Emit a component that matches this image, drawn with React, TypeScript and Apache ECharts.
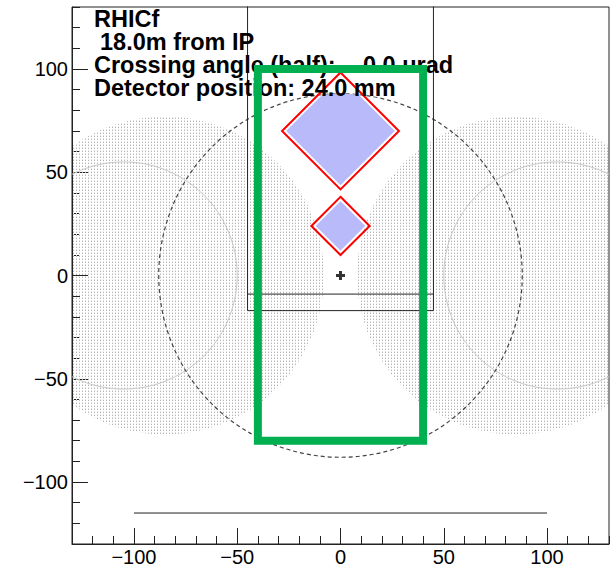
import React, { useEffect, useRef } from 'react';
import * as echarts from 'echarts';

// Axis ranges and ticks (mm)
const X_MIN = -130;
const X_MAX = 130;
const Y_MIN = -130;
const Y_MAX = 130;
const MINOR_STEP = 10;
const xMajorTicks = [-100, -50, 0, 50, 100];
const yMajorTicks = [-100, -50, 0, 50, 100];

// Geometry (mm): [cx, cy, radius]
const shadowDisks = [[-85, 0, 77], [85, 0, 77]];
const magnetCircles = [[-105, 0, 55], [105, 0, 55]];
const apertureCircle = [[0, 0, 88]];
// Towers: [cx, cy, half diagonal]
const towerOutlines = [[0, 24, 14.1], [0, 70, 28.3]];
const towerActive = [[0, 24, 12], [0, 70, 26.3]];
const detectorFrame = [[-45, 140], [-45, -17], [45, -17], [45, 140]];
const detectorInnerLine = [[-45, -9], [45, -9]];
const acceptanceBox = [[-40, -80, 40, 100]];
const baseLine = [[-100, -115], [100, -115]];
const beamCenter = [[0, 0]];

const infoLines = ['RHICf', '18.0m from IP', 'Crossing angle (half):', 'Detector position: 24.0 mm'];
const crossingValue = '0.0 urad';

const FONT = '"Liberation Sans", Arial, Helvetica, sans-serif';
const minus = (v: number) => String(v).replace('-', '\u2212');

export default function App() {
  const ref = useRef<HTMLDivElement>(null);
  useEffect(() => {
    if (!ref.current) return;
    const chart = echarts.init(ref.current, undefined, { renderer: 'svg' });

    const tile = document.createElement('canvas');
    tile.width = 3;
    tile.height = 3;
    const ctx = tile.getContext('2d');
    if (ctx) {
      ctx.fillStyle = '#b4b4b4';
      ctx.fillRect(1, 1, 1, 1);
      ctx.fillStyle = '#e2e2e2';
      ctx.fillRect(1, 0, 1, 1);
    }
    const dotFill: any = { image: tile, repeat: 'repeat', imageWidth: 3, imageHeight: 3 };

    const circleSeries = (data: number[][], style: any, z = 2) => ({
      type: 'custom',
      clip: true,
      z,
      silent: true,
      data,
      renderItem: (_p: any, api: any) => {
        const c = api.coord([api.value(0), api.value(1)]);
        const r = api.size([api.value(2), 0])[0];
        return { type: 'circle', shape: { cx: c[0], cy: c[1], r }, style };
      },
    });

    const axisColor = '#222';
    const baseXAxis = { type: 'value', min: X_MIN, max: X_MAX, position: 'bottom', splitLine: { show: false } };
    const baseYAxis = { type: 'value', min: Y_MIN, max: Y_MAX, position: 'left', splitLine: { show: false } };

    const [ax, ay, R] = apertureCircle[0];

    chart.setOption({
      animation: false,
      grid: { left: 72, top: 7, right: 2, bottom: 24, show: true, borderColor: axisColor, borderWidth: 1, backgroundColor: 'transparent' },
      xAxis: [
        {
          ...baseXAxis,
          interval: MINOR_STEP,
          axisLine: { show: true, onZero: false, lineStyle: { color: axisColor, width: 1 } },
          axisTick: { show: true, inside: true, length: 8, lineStyle: { color: axisColor } },
          axisLabel: { show: false },
        },
        {
          ...baseXAxis,
          axisLine: { show: false, onZero: false },
          axisTick: { show: true, inside: true, length: 16, customValues: xMajorTicks, lineStyle: { color: axisColor } },
          axisLabel: { show: true, customValues: xMajorTicks, formatter: minus, fontSize: 20, fontFamily: FONT, color: '#000', margin: 3 },
        },
      ],
      yAxis: [
        {
          ...baseYAxis,
          interval: MINOR_STEP,
          axisLine: { show: true, onZero: false, lineStyle: { color: axisColor, width: 1 } },
          axisTick: { show: true, inside: true, length: 8, lineStyle: { color: axisColor } },
          axisLabel: { show: false },
        },
        {
          ...baseYAxis,
          axisLine: { show: false, onZero: false },
          axisTick: { show: true, inside: true, length: 16, customValues: yMajorTicks, lineStyle: { color: axisColor } },
          axisLabel: { show: true, customValues: yMajorTicks, formatter: minus, fontSize: 20, fontFamily: FONT, color: '#000', margin: 4 },
        },
      ],
      graphic: {
        elements: [
          ...infoLines.map((t, i) => ({
            type: 'text',
            x: i === 1 ? 100 : 94,
            y: 19 + i * 23,
            z: 5,
            silent: true,
            style: { text: t, font: `bold 23.5px ${FONT}`, fill: '#000', verticalAlign: 'middle', textVerticalAlign: 'middle' },
          })),
          {
            type: 'text',
            x: 363,
            y: 19 + 2 * 23,
            z: 5,
            silent: true,
            style: { text: crossingValue, font: `bold 23.5px ${FONT}`, fill: '#000', verticalAlign: 'middle', textVerticalAlign: 'middle' },
          },
        ],
      },
      series: [
        circleSeries(shadowDisks, { fill: dotFill, stroke: null }, 1),
        circleSeries(magnetCircles, { fill: 'none', stroke: '#c8c8c8', lineWidth: 1 }),
        circleSeries(apertureCircle, { fill: 'none', stroke: '#444', lineWidth: 1.2, lineDash: [4, 3] }),
        {
          type: 'line',
          data: detectorFrame,
          symbol: 'none',
          silent: true,
          lineStyle: { color: '#222', width: 1 },
          clip: true,
        },
        {
          type: 'line',
          data: detectorInnerLine,
          symbol: 'none',
          silent: true,
          lineStyle: { color: '#222', width: 1 },
        },
        {
          type: 'line',
          data: baseLine,
          symbol: 'none',
          silent: true,
          lineStyle: { color: '#222', width: 1 },
        },
        {
          type: 'custom',
          clip: true,
          silent: true,
          z: 3,
          data: towerActive,
          renderItem: (_p: any, api: any) => {
            const cx = api.value(0);
            const cy = api.value(1);
            const h = api.value(2);
            const pts: number[][] = [];
            const px = cx - ax;
            const py = cy - ay;
            for (let i = 0; i < 360; i++) {
              const t = (i * Math.PI) / 180;
              const ux = Math.cos(t);
              const uy = Math.sin(t);
              const rd = h / (Math.abs(ux) + Math.abs(uy));
              const b = px * ux + py * uy;
              const rc = -b + Math.sqrt(b * b - (px * px + py * py - R * R));
              const r = Math.min(rd, rc);
              pts.push(api.coord([cx + r * ux, cy + r * uy]));
            }
            return { type: 'polygon', shape: { points: pts }, style: { fill: '#b9baf9', stroke: null } };
          },
        },
        {
          type: 'custom',
          clip: true,
          silent: true,
          z: 4,
          data: towerOutlines,
          renderItem: (_p: any, api: any) => {
            const cx = api.value(0);
            const cy = api.value(1);
            const h = api.value(2);
            const pts = [
              [cx, cy + h],
              [cx + h, cy],
              [cx, cy - h],
              [cx - h, cy],
            ].map((p) => api.coord(p));
            return { type: 'polygon', shape: { points: pts }, style: { fill: 'none', stroke: '#ff0000', lineWidth: 2 } };
          },
        },
        {
          type: 'scatter',
          data: beamCenter,
          silent: true,
          z: 4,
          symbol: 'path://M3 0h3v3h3v3H6v3H3V6H0V3h3z',
          symbolSize: 9,
          itemStyle: { color: '#000' },
        },
        {
          type: 'custom',
          clip: true,
          silent: true,
          z: 10,
          data: acceptanceBox,
          renderItem: (_p: any, api: any) => {
            const a = api.coord([api.value(0), api.value(3)]);
            const b = api.coord([api.value(2), api.value(1)]);
            return {
              type: 'rect',
              shape: { x: a[0], y: a[1], width: b[0] - a[0], height: b[1] - a[1] },
              style: { fill: 'none', stroke: '#00b050', lineWidth: 8 },
            };
          },
        },
      ],
    });
    return () => chart.dispose();
  }, []);
  return <div ref={ref} style={{ position: 'absolute', left: 0, top: 0, width: 611, height: 568 }} />;
}
